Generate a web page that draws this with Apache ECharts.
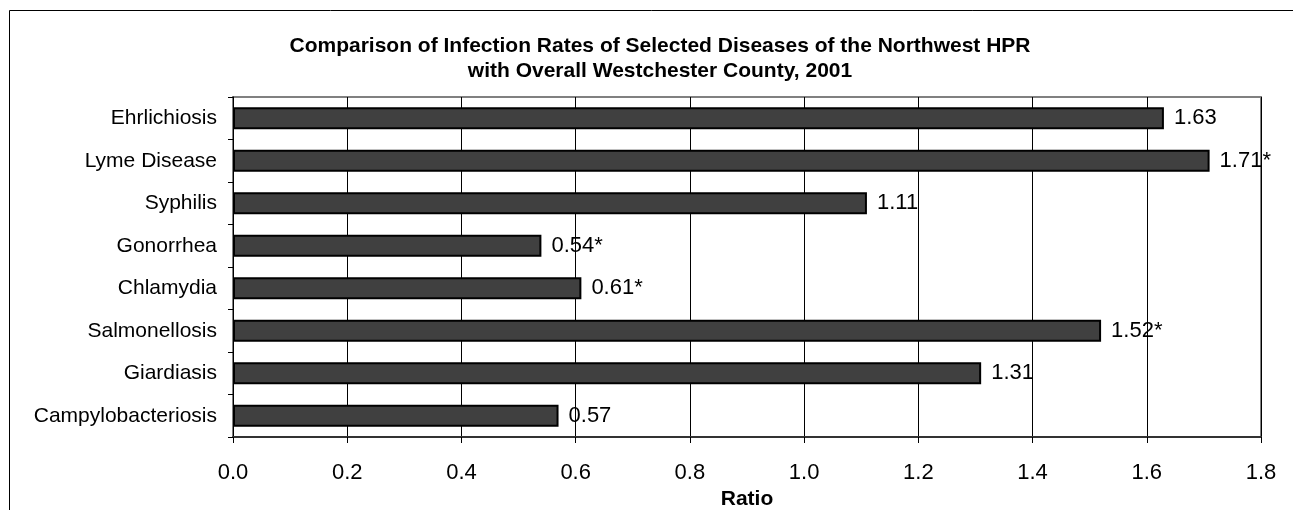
<!DOCTYPE html>
<html lang="en">
<head>
    <meta charset="UTF-8">
    <title>Infection Rates Ratio</title>
    <script src="https://cdnjs.cloudflare.com/ajax/libs/echarts/6.0.0/echarts.min.js"></script>
    <style>
        body { margin: 0; background: #fff; }
        #main { width: 1293px; height: 510px; }
    </style>
</head>
<body>
    <div id="main"></div>
    <script>
        // categories listed top to bottom
        const diseases = ["Ehrlichiosis", "Lyme Disease", "Syphilis", "Gonorrhea",
            "Chlamydia", "Salmonellosis", "Giardiasis", "Campylobacteriosis"];
        const ratios = [1.63, 1.71, 1.11, 0.54, 0.61, 1.52, 1.31, 0.57];
        // * = significant
        const significant = [false, true, false, true, true, true, false, false];
        const xTicks = [0, 0.2, 0.4, 0.6, 0.8, 1.0, 1.2, 1.4, 1.6, 1.8];

        const chart = echarts.init(document.getElementById('main'));

        const option = {
            animation: false,
            textStyle: { fontFamily: "Liberation Sans, Arial, sans-serif" },
            title: {
                text: "Comparison of Infection Rates of Selected Diseases of the Northwest HPR\nwith Overall Westchester County, 2001",
                left: 655,
                textAlign: 'center',
                top: 29,
                textStyle: { fontSize: 21, fontWeight: 'bold', color: '#000', lineHeight: 25 }
            },
            graphic: [{
                type: 'polyline',
                shape: { points: [[9.5, 510], [9.5, 10.5], [1293, 10.5]] },
                style: { stroke: '#000', lineWidth: 1, fill: null }
            }],
            grid: {
                left: 233, right: 32, top: 97, bottom: 73,
                outerBoundsMode: 'none',
                containLabel: false,
                show: true, borderColor: '#808080', borderWidth: 2
            },
            xAxis: {
                type: 'value',
                min: xTicks[0],
                max: xTicks[xTicks.length - 1],
                interval: 0.2,
                name: 'Ratio',
                nameLocation: 'middle',
                nameGap: 50,
                nameTextStyle: { fontSize: 21, fontWeight: 'bold', color: '#000' },
                axisLine: { show: true, lineStyle: { color: '#333', width: 2 } },
                axisTick: { show: true, length: 6, lineStyle: { color: '#000' } },
                axisLabel: {
                    fontSize: 22, color: '#000', margin: 25,
                    formatter: v => v.toFixed(1)
                },
                splitLine: { show: true, lineStyle: { color: '#000', width: 1 } }
            },
            yAxis: {
                type: 'category',
                inverse: true,
                data: diseases,
                axisLine: { show: true, lineStyle: { color: '#000', width: 1 } },
                axisTick: { show: true, length: 5, lineStyle: { color: '#000' } },
                axisLabel: { fontSize: 21, color: '#000', margin: 16 },
                splitLine: { show: false }
            },
            series: [{
                type: 'bar',
                data: ratios,
                barWidth: 22,
                itemStyle: { color: '#404040', borderColor: '#000', borderWidth: 2 },
                label: {
                    show: true,
                    position: 'right',
                    distance: 10,
                    fontSize: 22,
                    color: '#000',
                    formatter: p => p.value.toFixed(2) + (significant[p.dataIndex] ? '*' : '')
                }
            }]
        };

        chart.setOption(option);
    </script>
</body>
</html>
